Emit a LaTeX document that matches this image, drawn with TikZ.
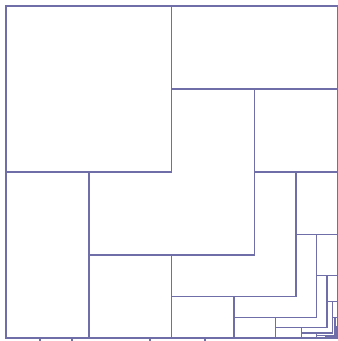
\documentclass[tikz,border=0pt]{standalone}
\usepackage{tikz}
\usepackage{xcolor}
\definecolor{lineP}{RGB}{112,110,168}

\begin{document}
\begin{tikzpicture}[x=1pt,y=-1pt]
  \tikzset{part/.style={lineP,line width=1.4pt,line join=miter}}
  \useasboundingbox (0,0) rectangle (338,341);
  \begin{scope}[shift={(6,6)},x=331.5pt,y=-332pt]
    % outer square
    \draw[part] (0,0) rectangle (1,1);
    % nested hooks towards the lower right corner
    \foreach \k in {1,...,8} {
      \pgfmathsetmacro\c{1-1/2^\k}
      \pgfmathsetmacro\a{1-(\k+2)/2^(\k+1)}
      \pgfmathsetmacro\ap{1-(\k+1)/2^\k}
      \draw[part] (\c,\ap) -- (\c,\c) -- (\ap,\c);
      \draw[part] (\c,\a) -- (1,\a);
      \draw[part] (\a,\c) -- (\a,1);
    }
  \end{scope}
  % small ticks below the bottom edge
  \foreach \x in {40,72,150,205}
    \draw[part] (\x,338) -- (\x,342);
\end{tikzpicture}
\end{document}
